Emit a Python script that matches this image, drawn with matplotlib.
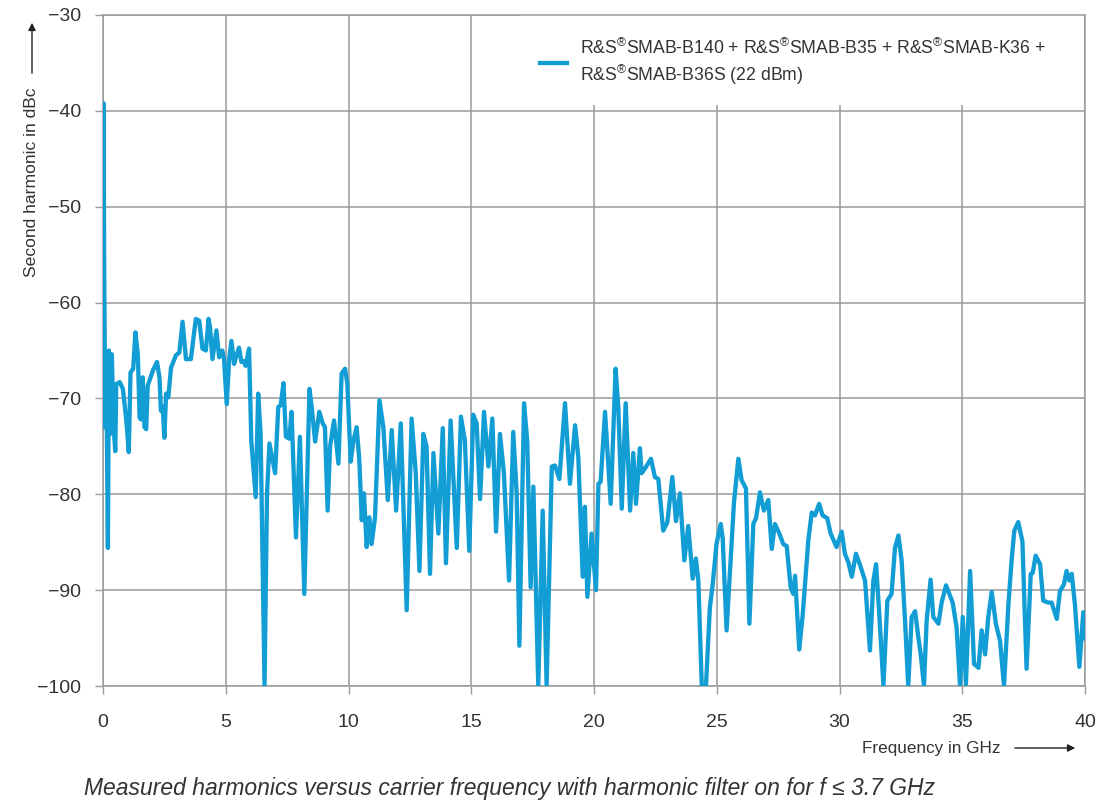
import matplotlib
matplotlib.use("Agg")
import matplotlib.pyplot as plt
from matplotlib.patches import FancyArrowPatch, Rectangle

plt.rcParams['font.family'] = ['Liberation Sans', 'DejaVu Sans']
plt.rcParams['mathtext.fontset'] = 'custom'
plt.rcParams['mathtext.rm'] = 'Liberation Sans'

# second harmonic trace, carrier frequency in GHz vs level in dBc
freq_ghz = [
    0.0, 0.02, 0.05, 0.07, 0.1, 0.13, 0.16, 0.2, 0.24, 0.3, 0.36, 0.43, 0.5, 0.54, 0.68,
    0.81, 0.95, 1.05, 1.12, 1.23, 1.32, 1.42, 1.49, 1.55, 1.62, 1.69, 1.76, 1.82, 2.03,
    2.2, 2.3, 2.36, 2.43, 2.5, 2.57, 2.66, 2.77, 2.97, 3.11, 3.24, 3.38, 3.58, 3.78,
    3.92, 4.05, 4.19, 4.3, 4.36, 4.46, 4.62, 4.73, 4.86, 4.93, 5.04, 5.14, 5.23, 5.34,
    5.45, 5.54, 5.64, 5.74, 5.81, 5.95, 6.04, 6.22, 6.32, 6.42, 6.58,
    6.68, 6.78, 7.01, 7.14, 7.24, 7.35, 7.45, 7.59, 7.68, 7.86, 8.02, 8.2, 8.41, 8.5,
    8.64, 8.81, 8.95, 9.04, 9.15, 9.25, 9.41, 9.59, 9.72, 9.86, 9.95, 10.09, 10.2,
    10.33, 10.44, 10.54, 10.63, 10.74, 10.85, 10.94, 11.08, 11.26, 11.42, 11.6, 11.76,
    11.94, 12.13, 12.37, 12.57, 12.74, 12.89, 13.05, 13.18, 13.32, 13.46, 13.66, 13.84,
    13.97, 14.16,
    14.41, 14.58, 14.74, 14.92, 15.08, 15.22, 15.36, 15.52, 15.7, 15.86, 16.01, 16.17,
    16.33, 16.54, 16.71, 16.85, 16.96, 17.15, 17.28, 17.42, 17.53, 17.73, 17.91, 18.07,
    18.28, 18.41, 18.59, 18.82, 19.02, 19.23, 19.36, 19.54, 19.63, 19.73, 19.9, 20.08,
    20.18, 20.27, 20.45, 20.68, 20.88, 20.99, 21.13, 21.29, 21.47, 21.6, 21.71, 21.87,
    21.94, 22.08, 22.32, 22.48, 22.62, 22.82, 22.99, 23.19, 23.34, 23.5, 23.68, 23.84,
    24.02, 24.15, 24.25, 24.39, 24.56, 24.72, 24.83, 24.99, 25.16, 25.24, 25.4, 25.7,
    25.88, 26.01, 26.19, 26.33, 26.49, 26.6, 26.76, 26.92, 27.1, 27.24, 27.37, 27.55,
    27.71, 27.85, 28.01, 28.12, 28.19, 28.36, 28.5, 28.73, 28.87, 29.0, 29.17, 29.31,
    29.5, 29.64, 29.88, 30.09, 30.22, 30.36, 30.5, 30.67, 30.84, 31.04, 31.24,
    31.38, 31.49, 31.62, 31.79, 31.95, 32.12, 32.26, 32.4, 32.53, 32.67, 32.8, 32.94,
    33.08, 33.21, 33.31, 33.44, 33.55, 33.71, 33.82, 34.03, 34.16, 34.34, 34.43, 34.61,
    34.77, 34.91, 35.02, 35.15, 35.32, 35.48, 35.66, 35.79, 35.93, 36.06, 36.2, 36.37,
    36.54, 36.7, 36.88, 37.01, 37.12, 37.28, 37.45, 37.62, 37.79, 37.87, 37.99, 38.17,
    38.3, 38.51, 38.64, 38.85, 38.98, 39.14, 39.25, 39.36, 39.46, 39.59, 39.77, 39.93,
    40.0,
]
harmonic_dbc = [
    -73, -39.2, -57.3, -64.3, -72.7, -65.5, -74, -85.6, -65, -73.7, -65.4, -73, -75.5, -68.5, -68.3,
    -69, -72.3, -75.6, -67.3, -66.9, -63.1, -65.5, -72, -72.2, -67.8, -73, -73.2, -68.7, -67.1,
    -66.2, -67.8, -71.3, -70.8, -74.1, -69.5, -69.9, -66.8, -65.5, -65.2, -62, -65.9, -65.9, -61.7,
    -61.9, -64.8, -65, -61.7, -62.6, -65.9, -62.9, -65.7, -65, -65.9, -70.6, -65.9, -64, -66.4,
    -65.4, -64.7, -66.2, -66.1, -66.6, -64.8, -74.4, -80.3, -69.5, -73.7, -100,
    -80, -74.7, -77.8, -70.9, -70.7, -68.4, -74, -74.2, -71.4, -84.5, -74, -90.4, -69, -70.9,
    -74.5, -71.4, -72.6, -73, -81.7, -75, -72.3, -76.8, -67.4, -66.9, -68.4, -76.6, -74.4,
    -73, -76.4, -82.7, -79.9, -85.5, -82.4, -85.2, -82.4, -70.2, -73, -80.6, -73.3,
    -81.7, -72.6, -92.1, -72.1, -77.8, -88, -73.7, -75, -88.3, -75.7, -84.1, -73.1,
    -87.2, -72.3,
    -85.6, -71.9, -74.4, -85.9, -71.7, -72.6, -80.5, -71.4, -77.1, -72.1, -83.9, -73.7,
    -77.8, -89, -73.5, -79.9, -95.8, -70.5, -74.4, -89.7, -79.2, -100, -81.7, -100,
    -77.1, -77, -78.4, -70.5, -78.9, -72.8, -76.1, -88.6, -81.3, -90.7, -84.1, -90,
    -78.9, -78.7, -71.4, -81, -66.9, -70.9, -81.5, -70.5, -81.7, -75.7, -81, -75.2,
    -77.8, -77.3, -76.3, -78.2, -78.4, -83.8, -82.9, -78.2, -82.8, -79.9, -86.9, -83.3,
    -88.8, -86.7, -89, -100, -100, -91.8, -89.5, -85.2, -83.1, -84.5, -94.2, -80.9,
    -76.3, -78.5, -79.4, -93.5, -83.1, -82.5, -79.8, -81.7, -80.6, -85.7, -83.1, -84.1,
    -85.2, -85.4, -89.7, -90.4, -88.5, -96.2, -92.6, -84.8, -81.9, -82.2, -81, -82.2,
    -82.5, -84.1, -85.5, -83.9, -86.2, -87.1, -88.6, -86.2, -87.4, -89, -96.3,
    -89, -87.3, -92.5, -100, -91.1, -90.4, -85.6, -84.3, -86.9, -93.2, -100, -92.8,
    -92.2, -94.9, -96.7, -100, -93.2, -88.9, -92.8, -93.5, -91.3, -89.5, -90.1, -91.3,
    -93.9, -100, -92.8, -99.8, -88, -97.7, -98.1, -94.2, -96.7, -92.8, -90.2, -93.5,
    -95.3, -100, -91.5, -86.9, -83.8, -82.9, -84.9, -98.2, -88.3, -88.2, -86.4, -87.3,
    -91.1, -91.3, -91.3, -93, -90.1, -89.4, -88, -89, -88.3, -91.5, -98, -92.3,
    -95,
]

x_ticks = [0, 5, 10, 15, 20, 25, 30, 35, 40]
y_ticks = [-100, -90, -80, -70, -60, -50, -40, -30]

series_label = ("R&S$^{\\circledR}$SMAB-B140 + R&S$^{\\circledR}$SMAB-B35 + R&S$^{\\circledR}$SMAB-K36 +\n"
                "R&S$^{\\circledR}$SMAB-B36S (22 dBm)")

W, H = 1116, 805
fig = plt.figure(figsize=(W / 100, H / 100), dpi=100)
ax = fig.add_axes([103 / W, 1 - 686 / H, (1085 - 103) / W, (686 - 15) / H])

line_col = '#129dd5'
grid_col = '#9a9a9a'
text_col = '#333333'

ax.plot(freq_ghz, harmonic_dbc, color=line_col, lw=3.1, solid_joinstyle='round',
        label=series_label, zorder=3)

ax.set_xlim(0, 40)
ax.set_ylim(-100, -30)
ax.set_xticks(x_ticks)
ax.set_yticks(y_ticks)
ax.set_xticklabels([str(v) for v in x_ticks])
ax.set_yticklabels([str(v).replace('-', '\u2212') for v in y_ticks])
ax.grid(True, color=grid_col, lw=1.1)
ax.set_axisbelow(True)
for s in ax.spines.values():
    s.set_color(grid_col)
    s.set_linewidth(1.1)
ax.tick_params(axis='x', length=6, width=1.0, color=grid_col, pad=14,
               labelsize=14, labelcolor=text_col)
ax.tick_params(axis='y', length=6, width=1.0, color=grid_col, pad=10,
               labelsize=14, labelcolor=text_col)

# white patch behind the legend hides the gridlines there
ax.add_patch(Rectangle((17.0, -39.4), 22.95, 9.35, facecolor='white',
                       edgecolor='none', zorder=2))
leg = ax.legend(loc='upper left', bbox_to_anchor=(0.431, 0.987), frameon=False,
                fontsize=12.7, handlelength=1.5, handletextpad=0.75,
                labelspacing=0.3, borderpad=0.3)
for t in leg.get_texts():
    t.set_color(text_col)
    t.set_linespacing(1.3)
leg.set_zorder(5)

# axis titles with arrows
fig.text(32 / W, 1 - 182 / H, 'Second harmonic in dBc', rotation=90, ha='center',
         va='center', fontsize=12.6, color=text_col)
fig.patches.append(FancyArrowPatch(
    (32 / W, 1 - 76 / H), (32 / W, 1 - 20 / H), transform=fig.transFigure,
    arrowstyle='-|>', mutation_scale=11, color='#222222', lw=1.0))

fig.text(931 / W, 1 - 748 / H, 'Frequency in GHz', ha='center', va='center',
         fontsize=12.3, color=text_col)
fig.patches.append(FancyArrowPatch(
    (1012 / W, 1 - 748 / H), (1078 / W, 1 - 748 / H), transform=fig.transFigure,
    arrowstyle='-|>', mutation_scale=11, color='#222222', lw=1.0))

fig.text(510 / W, 1 - 788 / H,
         'Measured harmonics versus carrier frequency with harmonic filter on for f \u2264 3.7 GHz',
         ha='center', va='center', fontsize=16.5, style='italic', color=text_col)

fig.savefig('out.png', dpi=100, facecolor='white')
